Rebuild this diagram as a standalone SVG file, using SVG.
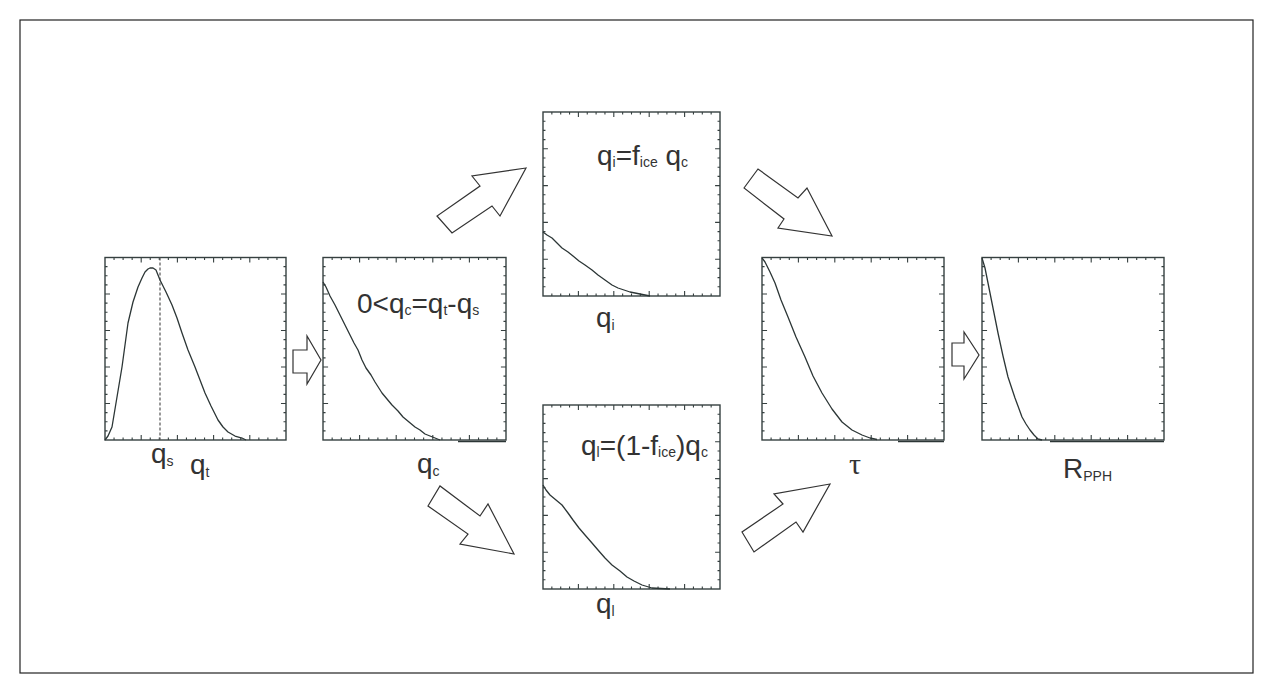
<svg xmlns="http://www.w3.org/2000/svg" xmlns:xlink="http://www.w3.org/1999/xlink" width="1274" height="693" viewBox="0 0 1274 693">
<style>
.frame{fill:none;stroke:#364040;stroke-width:1.4}
.tick{fill:none;stroke:#364040;stroke-width:1.1;vector-effect:non-scaling-stroke}
.curve{fill:none;stroke:#2c3636;stroke-width:1.3;stroke-linejoin:round}
.dash{fill:none;stroke:#555;stroke-width:1.2;stroke-dasharray:3 2}
.arrow{fill:#fff;stroke:#333;stroke-width:1.2;stroke-linejoin:miter}
.lbl{font-family:"Liberation Sans",Arial,sans-serif;font-size:28px;fill:#333}
.greek{font-family:"Liberation Serif","Times New Roman",serif;font-size:30px;fill:#333}
.sub{font-size:14px}
</style>
<defs>
<symbol id="ticks" viewBox="0 0 180 180" preserveAspectRatio="none" overflow="visible">
<path class="tick" d="M9 0v2.5M18 0v2.5M27 0v2.5M36 0v5M45 0v2.5M54 0v2.5M63 0v2.5M72 0v5M81 0v2.5M90 0v2.5M99 0v2.5M108 0v5M117 0v2.5M126 0v2.5M135 0v2.5M144 0v5M153 0v2.5M162 0v2.5M171 0v2.5
M9 180v-2.5M18 180v-2.5M27 180v-2.5M36 180v-5M45 180v-2.5M54 180v-2.5M63 180v-2.5M72 180v-5M81 180v-2.5M90 180v-2.5M99 180v-2.5M108 180v-5M117 180v-2.5M126 180v-2.5M135 180v-2.5M144 180v-5M153 180v-2.5M162 180v-2.5M171 180v-2.5
M0 9h2.5M0 18h2.5M0 27h2.5M0 36h5M0 45h2.5M0 54h2.5M0 63h2.5M0 72h5M0 81h2.5M0 90h2.5M0 99h2.5M0 108h5M0 117h2.5M0 126h2.5M0 135h2.5M0 144h5M0 153h2.5M0 162h2.5M0 171h2.5
M180 9h-2.5M180 18h-2.5M180 27h-2.5M180 36h-5M180 45h-2.5M180 54h-2.5M180 63h-2.5M180 72h-5M180 81h-2.5M180 90h-2.5M180 99h-2.5M180 108h-5M180 117h-2.5M180 126h-2.5M180 135h-2.5M180 144h-5M180 153h-2.5M180 162h-2.5M180 171h-2.5"/>
</symbol>
</defs>
<rect x="0" y="0" width="1274" height="693" fill="#fff"/>
<rect x="20" y="20" width="1233" height="653" fill="none" stroke="#222" stroke-width="1.2"/>

<g id="panel-qt">
<rect class="frame" x="105" y="257.5" width="181" height="182.5"/>
<use xlink:href="#ticks" x="105" y="257.5" width="181" height="182.5"/>
<line class="dash" x1="160" y1="257.5" x2="160" y2="440"/>
<polyline class="curve" points="105,440 108,436 112,427 117,397 122,367 128,323 133,302 138,287 142,278 145,272 148,269 150,268 153,268 156,270 160,280 166,292 172,305 177,318 182,333 188,350 195,367 200,380 205,393 211,406 218,420 223,427 228,432 235,436 242,438 246,440"/>
<text class="lbl" x="151" y="463">q<tspan class="sub" dy="3">s</tspan></text>
<text class="lbl" x="190" y="474">q<tspan class="sub" dy="3">t</tspan></text>
</g>

<g id="panel-qc">
<rect class="frame" x="323" y="257.5" width="183" height="182.5"/>
<use xlink:href="#ticks" x="323" y="257.5" width="183" height="182.5"/>
<polyline class="curve" points="323,282 326,287 330,296 335,305 340,315 345,325 350,335 354,343 358,350 362,360 366,368 371,375 375,382 382,393 387,399 392,405 398,411 403,417 409,422 415,427 420,430 425,434 430,436 435,438 440,440"/>
<polyline class="curve" points="458,441.5 506,441.5"/>
<text class="lbl" x="357" y="313">0&lt;q<tspan class="sub" dy="2">c</tspan><tspan dy="-2">=q</tspan><tspan class="sub" dy="2">t</tspan><tspan dy="-2">-q</tspan><tspan class="sub" dy="2">s</tspan></text>
<text class="lbl" x="417" y="473">q<tspan class="sub" dy="3">c</tspan></text>
</g>

<g id="panel-qi">
<rect class="frame" x="543" y="112" width="177" height="184"/>
<use xlink:href="#ticks" x="543" y="112" width="177" height="184"/>
<polyline class="curve" points="543,232 547,235 552,238 557,243 562,248 568,252 573,256 579,261 585,265 592,270 598,275 605,280 612,285 618,288 624,290 630,292 635,293 645,295 650,296"/>
<text class="lbl" x="597" y="165">q<tspan class="sub" dy="2">i</tspan><tspan dy="-2">=f</tspan><tspan class="sub" dy="2">ice</tspan><tspan dy="-2"> q</tspan><tspan class="sub" dy="2">c</tspan></text>
<text class="lbl" x="596" y="327">q<tspan class="sub" dy="3">i</tspan></text>
</g>

<g id="panel-ql">
<rect class="frame" x="543" y="405" width="177" height="184"/>
<use xlink:href="#ticks" x="543" y="405" width="177" height="184"/>
<polyline class="curve" points="543,485 546,490 550,495 556,500 562,505 568,513 573,520 579,528 585,535 592,543 598,550 605,558 612,565 620,571 627,577 634,581 642,585 652,588 670,589"/>
<text class="lbl" x="581" y="455">q<tspan class="sub" dy="2">l</tspan><tspan dy="-2">=(1-f</tspan><tspan class="sub" dy="2">ice</tspan><tspan dy="-2">)q</tspan><tspan class="sub" dy="2">c</tspan></text>
<text class="lbl" x="596" y="613">q<tspan class="sub" dy="3">l</tspan></text>
</g>

<g id="panel-tau">
<rect class="frame" x="762" y="257.5" width="182" height="182.5"/>
<use xlink:href="#ticks" x="762" y="257.5" width="182" height="182.5"/>
<polyline class="curve" points="762,258 765,262 770,272 775,283 781,300 788,317 796,337 805,357 813,376 822,393 832,409 842,422 852,430 862,435 870,438 877,439.5"/>
<polyline class="curve" points="898,441.5 944,441.5"/>
<text class="greek" x="849" y="474">τ</text>
</g>

<g id="panel-rpph">
<rect class="frame" x="982" y="257.5" width="182" height="182.5"/>
<use xlink:href="#ticks" x="982" y="257.5" width="182" height="182.5"/>
<polyline class="curve" points="982,258 985,268 988,283 993,308 998,333 1003,356 1008,377 1015,398 1022,417 1026,424 1030,430 1034,435 1038,439 1042,440"/>
<polyline class="curve" points="1050,441.5 1164,441.5"/>
<text class="lbl" x="1063" y="478">R<tspan class="sub" dy="3">PPH</tspan></text>
</g>

<g id="connectors">
<polygon class="arrow" points="293,350 307,350 307,336 321,360 307,384 307,373 293,373"/>
<polygon class="arrow" points="526,168 472,176 480,186 437,216 452,233 492,206 500,216"/>
<polygon class="arrow" points="428,506 440,486 480,516 488,504 514,554 460,544 468,534"/>
<polygon class="arrow" points="744,188 758,169 798,198 807,188 832,236 778,228 784,219"/>
<polygon class="arrow" points="830,484 774,494 783,504 742,532 754,552 796,522 803,532"/>
<polygon class="arrow" points="952,343 964,343 964,332 979,355 964,379 964,366 952,366"/>
</g>
</svg>
